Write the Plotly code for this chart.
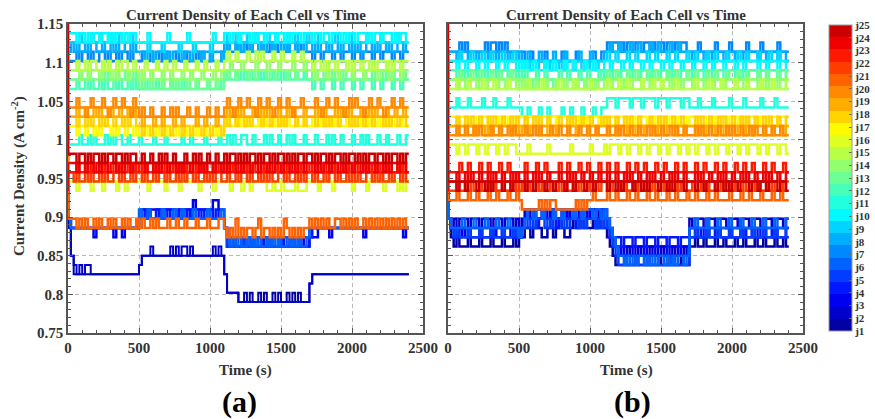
import plotly.graph_objects as go

# ---------------- data ----------------
# quantised current-density levels (A cm^-2), indexed by the code characters below
LEVELS = [0.790, 0.802, 0.814, 0.826, 0.838, 0.850, 0.862, 0.874, 0.886, 0.898,
          0.910, 0.922, 0.934, 0.946, 0.958, 0.970, 0.982, 0.994, 1.006, 1.018,
          1.030, 1.042, 1.054, 1.066, 1.078, 1.090, 1.102, 1.114, 1.126, 1.138,
          1.150, 1.162]
LEVEL_KEYS = "0123456789ABCDEFGHIJKLMNOPQRSTUV"
TIME_STEP_S = 20
# samples per segment: start | 60-500 s | 500-1100 s | 1100-1700 s | 1700-2400 s
SEGMENT_LENGTHS = [3, 23, 30, 30, 35]

CELL_NAMES = ["j%d" % i for i in range(1, 26)]
X_TICKS = [0, 500, 1000, 1500, 2000, 2500]
X_TICK_TEXT = ["0", "500", "1000", "1500", "2000", "2500"]
Y_TICKS = [0.75, 0.8, 0.85, 0.9, 0.95, 1.0, 1.05, 1.1, 1.15]
Y_TICK_TEXT = ["0.75", "0.8", "0.85", "0.9", "0.95", "1", "1.05", "1.1", "1.15"]

PANEL_A_CODES = [
    "C85|33333333333333333333333|455555555555555555555555555555|311110010100101001010010101000|23333333333333333333333333333333333",
    "C85|43434433333333333333333|455565555556565665655555556565|311110000000000000000000000000|23333333333333333333333333333333333",
    "C98|88888887888888788788888|9AA9AAAA9AAAA9AAAA9BAAAAAABBAA|866666766666676666667666666766|77788887888888888887888888888888878",
    "C98|88888888888888888888888|9A9A99A9AA9A99A9A9A99A9A9A9A99|866766676766676676667667667666|78888888888888888888888888888888888",
    "C98|88888888888888888888888|999999999999999999999999999999|867777677767777677767777677777|88888888888888888888888888888888888",
    "C98|88888888888888888888888|A99A9999A999A99A999A9999A9999A|876767667676766767676676767667|88888888888888888888888888888888888",
    "CQQ|QRQRRQRQQRRQRQQRQRRQRQQ|QRQQRQQRQRQQQRQQRQQQRQRQQRQQQR|RSRRSRRSRSRRRSRRSRSRRRSRRSRSRR|RQRRQRRRQRRQRRRQRRQRRRQRRQRRRQRRQRR",
    "CRS|RSRRSRSSRRSRRSRSRRSSRSR|RRQRRQRRRQRQRRRQRRQRRRQRRQRRRQ|SRSSRSRSSRSSRSRSSRSSRSRSSRSSRS|SRSRSSRSRRSRSSRSRSRRSSRSRSSRSRRSSRS",
    "CSS|SSTSSSTSSTSSSTSSTSSSTSS|SSSRSSSSRSSSSSRSSSSRSSSSSRSSSS|STSSTSSSTSSTSSSTSSTSSSTSSTSSST|SSSTSSSSSTSSSSTSSSSSTSSSSTSSSSSTSSS",
    "CTT|TSTTSTSTTSTTSTSTTSTSTTS|SSSTSSSSSSTSSSSSSTSSSSSSSSTSSS|TTSTTSTTTSTSTTSTTTSTTSTSTTTSTT|TSTTSTTSTTTSTSTTSTTTSTSTTSTTTSTSTTS",
    "CHH|HHIHHIHIHHHIHIHIIHHIHHH|IHHHHIHHHIHHHHHIHHIHHHHIHHHHIH|HIHIHHIIHHIHHHIHIHHIHHIHIHHHIH|HHIHHHIHIHHIHHHIHHIHIHHHIHHIHHHIHHI",
    "CNN|NONNONONNONONNONONNONON|NNONNNONNNNONNNONNNNONNNONNNNO|OPOOPOPOOPOOPOPOOPOOPOPOOPOOPO|ONOONOOONOONOOONOONOOONOONOOONOONOO",
    "COO|OOPOOPOOOPOPOOOPOOPOOPO|NONNONNNONNONONNNONNONNNONNONN|POPPOPPPOPPOPPPOPPOPPPOPPOPPPO|OPOOOPOOPOOOPOOPOOOPOOPOOOPOOPOOOPO",
    "CPP|PPOPPOPPPOPPPOPOPPPOPPP|OPOOPOOOPOOPOOOPOOPOOOPOOOPOOP|PPQPPPQPPPPQPPPQPPPQPPPPQPPPQP|PPOPPPOPPPOPPPPOPPPOPPPPOPPPOPPPOPP",
    "CPP|PQPPQPQQPPQPQPPQPQQPPQP|PPQPPPQPPQPPQPPPQPPPQPPQPPPQPP|QRQQRQQQRQQRQRQQQRQQRQQQRQQRQQ|QPQQPQPQQPQQQPQPQQPQQPQPQQQPQPQQPQQ",
    "CDD|DCDDDDCDDDCDDDDCDDCDDDD|DDDCDDDDDCDDDDCDDDDDDCDDDDCDDD|DDCDDDCDDCDDDDDCCDCCDCCCCDCCCD|DDDCDDDDCDDDDDDCDDDDCDDDDDCDDDDCDCD",
    "CJJ|JIJJIJJIJIJJJIJIJJIJJIJ|IIJIIIJIIJIIIJIIJIIIJIIJIIIJII|JKJJKJKJJKJJKJKJJKJJKJKJJKJJKJ|JKJJKJJKJKJJJKJKJJKJJKJJKJKJJKJJKJJ",
    "CKK|KJKKJKJKKJKJKKJKKJKJKKJ|JIJJIJJJIJJIJJJIJJIJJJIJJIJJJI|KJKKJKKJKJKKKJKKJKKJKJKKKJKKJK|KKJKKJKJKKJKKKJKJKKJKKJKKKJKJKKJKKJ",
    "CKK|KLKKLKKLKLKKKLKKLKKLKLK|KJKKKJKKJKKKJKKJKKKKJKKJKKKJKK|KLKKLKLKKKLKKLKLKKKLKKLKLKKKLK|KKLKKLKKKLKLKKLKKKLKKLKLKKKLKKLKKLK",
    "CLL|LMLLKLMLLLMLKLMLLMLLKML|KLKKLKKKLKKLKLKKKLKKLKKKLKKLKK|LMLKLMLLMLLKMLLMLKLMLLMLKLLMLL|LLMLKLMLLMLLKLMLMLLKLMLLMLKLLMLLMLL",
    "C99|98989889898898988989889|89889898889889889888988898889|878797878878978878787987878788|98989898899898989889898989898989898",
    "CEE|DEDDEDEDDEDEDDEEDEDDEDE|EDEDDEDEEDEDDEDEDEEDEDDEDEDEED|DEDDEDEEDEDDEDEDEDDEEDEDDEDEDE|EDEDDEDEEDEDDEDEDEDDEEDEDEDDEDEEDED",
    "CEE|EFEEFEFEEFEFEEFEFEEFEFE|FEFEEFEFEFEEFEFEFEEFEFEFEEFEFE|EFEFEEFEFEFEEFEFEEFEFEFEEFEFEE|FEFEEFEFEFEEFEFEFEEFEFEEFEFEFEEFEFE",
    "CFF|FEFFEFFEFEFFEFFEFEFFEFF|FFEFFEFEFFEFFEFEFFEFFEFEFFEFFE|FEFFEFEFFEFFEFFEFEFFEFFEFEFFEF|FFEFEFFEFFEFEFFEFFEFEFFEFFEFEFFEFFE",
    "VGG|GFGGFGFGGFGFGGFGGFGFGGF|FGFFGFFGFGFFGFFFGFFGFGFFGFFGFF|GFGGFGFGFGGFGFGGFGFGGFGFGFGGFG|GFGFGGFGFGGFGFGGFGFGFGGFGGFGFGGFGFG",
]

PANEL_B_CODES = [
    "C97|67666766676667666766676|778878987789789877898898889898|876544454445444544454445444544|66766766676676667667666766766676676",
    "C98|98999899989998999899989|89AAA9AAAAA9AAAA9AAAAAA9AAAA9A|A98765556555655565556555655565|98999899989998999899989998999899989",
    "C98|77787777787777877777877|789A9A99A9A9A99A9A9A9A99A9A99A|987666566656665666566656665666|77877787778777877787778777877787778",
    "C98|87888788878887888788878|789999899999989999998999999899|987777677767776777677767776777|88887888878888788887888878888788887",
    "C98|78777877787778777877787|789898999898999898999898999898|987654444444444444444444444444|77877787778777877787778777877787778",
    "C98|88898889888988898889888|789AA9AA9AAA9AA9AAA9AA9AAA9AA9|A98765545454554545455454545545|88988898889888988898889888988898889",
    "CRR|RRSRSRRRRRRSRSSRSRSRRRR|RRQQRQQQQRQQQQQRQQQQRQQQQQRQQR|RSRSSRSRSSRSSRSSRSRSSRSSRSRSSR|RRRSRRRRRSRRRRSRRRRRSRRRRSRRRRRSRRR",
    "CRR|RQRRRQRRQRRRQRRQRRRQRRQ|RQQRQQQRQQQQRQQQRQQQQRQQQRQQQQ|RRSRRSRRRSRRSRRRSRRSRRRSRRSRRR|RQRRRQRRQRRRQRRRQRRQRRRRQRRQRRRQRRQ",
    "CQQ|QQRQQQRQQQRQQRQQQRQQQRQ|QPQPQQPQQPQPQQPQPQQPQQPQPQQPQQ|QRQQRQQQRQQRQQQRQQRQQQRQQRQQQR|QQRQQQRQQRQQQRQQQRQQRQQQRQQQRQQRQQQ",
    "CQQ|QPQQPQQQPQQPQQQPQQPQQQP|QPQPPQPPPQPPQPPPQPPQPPPQPPQPPP|QQPQQQPQQPQQQPQQPQQQPQQPQQQPQQ|QPQQQPQQPQQQPQQQPQQPQQQQPQQPQQQPQQP",
    "CLL|LMLLLMLLLLMLLLMLLLLMLLL|LKKLKKKLKKLKKKKLKKLKKKLKKKLKKL|LMMMLMMMMLMMMLMMMMLMMMLMMMMLMM|LLLMLLLLMLLLLLMLLLLMLLLLLMLLLLMLLLL",
    "CPP|POPPOPPPOPPOPPPOPPPOPPO|POPOOOPOOPOOOOPOOPOOOPOOPOOOPO|PPOPPOPPPOPPOPPPOPPOPPPOPPOPPP|POPPPOPPOPPPOPPPOPPOPPPPOPPOPPPOPPO",
    "COO|OOPOOOPOOPOOOPOOPOOOPOO|OONOONOOONOONOOONOONOOONOONOOO|OPOOPOOOPOOPOOOPOOPOOOPOOPOOOP|OOPOOOPOOPOOOPOOOPOOPOOOPOOPOOOPOOP",
    "COO|ONOONOOONOONOOONOONOOON|ONONNNONNONNNONNONNNONNONNNONN|OONOOONOONOOONOONOOONOONOOONOO|ONOOONOONOOONOOONOONOOOONOONOOONOON",
    "CNN|NONNNONNNNONNNONNNNONNN|NNNONNNNONNNNNONNNNONNNNNONNNN|NONNNONNONNNNONNNONNONNNNONNNN|NNONNNNONNNONNNNONNNONNNNONNNONNNNON",
    "CHH|HGHHGHHHGHHGHHHGHHGHHHG|GGGHGGGGGGHGGGGGGGHGGGGGGHGGGG|HGHHHGHHGHHHGHHGHHHGHHGHHHGHHG|HHGHHHGHHGHHHGHHHGHHGHHHGHHGHHHGHHG",
    "CKK|KJKKKJKKJKKKJKKKJKKJKKK|KKJKKKJKKKJKKJKKKJKKKJKKJKKKJK|KJKKJKKKJKKJKKKJKKJKKKJKKJKKKJ|KKJKKKJKKJKKKJKKKJKKJKKKJKKJKKKJKKJ",
    "CJJ|JKJJKJKJJKJJKJKJJKJJKJK|JJKJJKJKJJKJJJKJJKJKJJKJJKJJJK|JKJJKJJKJKJJKJJJKJJKJKJJKJJKJJ|JJKJKJJKJJKJKJJKJJKJKJJKJJKJKJJKJJK",
    "CJJ|JIJJIJJIJJJIJIJJIJJJIJJ|IJJIJJJIJJIJJIJJJIJJIJJJIJJIJJ|JIJJIJJJIJJIJJIJJJIJJIJJJIJJIJ|JJIJJIJJJIJJIJJJIJJIJJIJJJIJJIJJJIJ",
    "CII|IJIIJIIJIJIIIJIIJIIJIJI|IIJIIJIJIIIJIIJIIJIIIJIIJIIJII|IJIIJIJIIJIIJIIJIJIIJIIJIJIIJI|IIJIJIIJIIJIIJIJIIJIIJIJIIJIIJIIJII",
    "CBB|BCBBBCBBCBBBCBBCBBBCBBC|BAAAAAABABABBAAAAAAABABABBCBBB|BCBBCBBBCBBCBBBCBBCBBBCBBCBBBC|BBCBBBCBBCBBBBCBBBCBBCBBBCBBBCBBCBB",
    "CCC|CDCCDCDCCDCCDCDCCDCCDCD|CDCDCCDCDCCDCCDCDCCDCDCCDCCDCD|DCDCCDCDCCDCDCCDCDCCDCDCCDCDCC|CDCCDCDCCDCDCCDCDCCDCCDCDCCDCDCCDCD",
    "CEE|EEFEEFEEEFEEFEEEFEEFEEE|EEFEEEFEEFEEEEFEEFEEEFEEFEEEFE|EFEEFEEEFEEFEEFEEEFEEFEEEFEEFE|EEFEEFEEEFEEFEEEFEEFEEFEEEFEEFEEEFE",
    "CDD|DEDDEDEDDEDDEDEDDEDDEDE|DDEDDEDEDDEDDDEDDEDEDDEDDEDDED|DEDDEDDEDEDDEDDEDEDDEDDEDEDDED|DDEDEDDEDDEDEDDEDDEDEDDEDDEDEDDEDDE",
    "VDD|DCDDCDDDCDDCDCDDDCDDCDD|DDCDDCDDDCDDCDDDCDDCDDDCDDCDDD|DCDDCDCDDDCDDCDCDDDCDDCDCDDDCD|DDCDDCDDDCDDCDCDDCDDDCDDCDDCDDDCDDC",
]

# ---------------- styles ----------------
CELL_COLORS = ["#0000a5", "#0000cb", "#0000f0", "#0018ff", "#003dff", "#0063ff",
               "#0089ff", "#00aeff", "#00d4ff", "#00faff", "#21ffde", "#47ffb8",
               "#6cff93", "#91ff6e", "#b8ff47", "#deff21", "#fffa00", "#ffd400",
               "#ffae00", "#ff8900", "#ff6300", "#ff3d00", "#ff1800", "#f00000",
               "#cc0000"]

SERIF = "Liberation Serif"
W, H = 875, 419


def decode(code):
    segs = code.split("|")
    out = []
    for seg, n in zip(segs, SEGMENT_LENGTHS):
        seg = seg[:n] + seg[-1] * max(0, n - len(seg))
        out.extend(LEVELS[LEVEL_KEYS.index(c)] for c in seg)
    return out


fig = go.Figure()
for codes, xa, ya in [(PANEL_A_CODES, "x", "y"), (PANEL_B_CODES, "x2", "y2")]:
    for idx, code in enumerate(codes):
        vals = decode(code)
        times = [TIME_STEP_S * i for i in range(len(vals))]
        lw = 2.0 if (xa == "x" and idx < 2) else 2.5
        fig.add_trace(go.Scatter(
            x=times, y=vals, mode="lines", name=CELL_NAMES[idx],
            line=dict(color=CELL_COLORS[idx], width=lw, shape="vh"),
            xaxis=xa, yaxis=ya, showlegend=False, hoverinfo="skip"))

# colour bar (discrete jet, j1..j25)
n = len(CELL_COLORS)
cscale = []
for i, c in enumerate(CELL_COLORS):
    cscale.append([i / n, c])
    cscale.append([(i + 1) / n, c])
fig.add_trace(go.Scatter(
    x=[None], y=[None], mode="markers", showlegend=False, hoverinfo="skip",
    marker=dict(color=[1], cmin=1, cmax=25, colorscale=cscale, showscale=True,
                colorbar=dict(
                    thickness=23, thicknessmode="pixels",
                    len=306, lenmode="pixels",
                    x=829 / W, xanchor="left", y=(H - 178) / H, yanchor="middle",
                    xpad=0, ypad=0,
                    tickvals=list(range(1, 26)), ticktext=CELL_NAMES,
                    tickfont=dict(family=SERIF, size=11, color="#333", weight="bold"),
                    ticks="inside", ticklen=3, tickcolor="#666",
                    outlinewidth=1, outlinecolor="#999")),
    xaxis="x", yaxis="y"))

tickfont = dict(family=SERIF, size=15, color="#333", weight="bold")
axis_common = dict(
    automargin=False,
    showline=True, linecolor="#555", linewidth=1.5, mirror="allticks",
    ticks="inside", ticklen=5, tickwidth=1.2, tickcolor="#555",
    showgrid=True, gridcolor="#b8b8b8", gridwidth=1, griddash="4px,3px",
    zeroline=False, tickfont=tickfont)

xdom_a = [68 / W, 423 / W]
xdom_b = [448 / W, 803 / W]
ydom = [(H - 333) / H, (H - 24) / H]

fig.update_layout(
    width=W, height=H, margin=dict(l=0, r=0, t=0, b=0, autoexpand=False),
    paper_bgcolor="white", plot_bgcolor="white",
    font=dict(family=SERIF),
    xaxis=dict(domain=xdom_a, anchor="y", range=[0, 2500], tickmode="array",
               tickvals=X_TICKS, ticktext=X_TICK_TEXT,
               minor=dict(tickmode="linear", tick0=0, dtick=100, ticks="inside",
                          ticklen=3, tickcolor="#555", showgrid=False),
               **axis_common),
    yaxis=dict(domain=ydom, anchor="x", range=[0.75, 1.15], tickmode="array",
               tickvals=Y_TICKS, ticktext=Y_TICK_TEXT,
               minor=dict(tickmode="linear", tick0=0.75, dtick=0.01, ticks="inside",
                          ticklen=3, tickcolor="#555", showgrid=False),
               **axis_common),
    xaxis2=dict(domain=xdom_b, anchor="y2", range=[0, 2500], tickmode="array",
                tickvals=X_TICKS, ticktext=X_TICK_TEXT,
                minor=dict(tickmode="linear", tick0=0, dtick=100, ticks="inside",
                           ticklen=3, tickcolor="#555", showgrid=False),
                **axis_common),
    yaxis2=dict(domain=ydom, anchor="x2", range=[0.75, 1.15], tickmode="array",
                tickvals=Y_TICKS, ticktext=Y_TICK_TEXT, showticklabels=False,
                minor=dict(tickmode="linear", tick0=0.75, dtick=0.01, ticks="inside",
                           ticklen=3, tickcolor="#555", showgrid=False),
                **axis_common),
)

title_font = dict(family=SERIF, size=15, color="#333", weight="bold")
annots = [
    dict(text="Current Density of Each Cell vs Time", x=245.5 / W, y=(H - 15) / H,
         font=title_font),
    dict(text="Current Density of Each Cell vs Time", x=626 / W, y=(H - 15) / H,
         font=title_font),
    dict(text="Time (s)", x=245.5 / W, y=(H - 370) / H, font=title_font),
    dict(text="Time (s)", x=626 / W, y=(H - 370) / H, font=title_font),
    dict(text="Current Density (A cm<sup>-2</sup>)", x=19 / W, y=(H - 176) / H,
         textangle=-90, font=title_font),
    dict(text="(a)", x=239 / W, y=(H - 402) / H,
         font=dict(family=SERIF, size=30, color="black", weight="bold")),
    dict(text="(b)", x=632 / W, y=(H - 402) / H,
         font=dict(family=SERIF, size=30, color="black", weight="bold")),
]
for a in annots:
    a.update(xref="paper", yref="paper", showarrow=False, xanchor="center",
             yanchor="middle")
fig.update_layout(annotations=annots)

fig.write_html("out.html",
               config={"displayModeBar": False},
               post_script="document.body.style.margin='0px';"
                           "document.body.style.overflow='hidden';")
